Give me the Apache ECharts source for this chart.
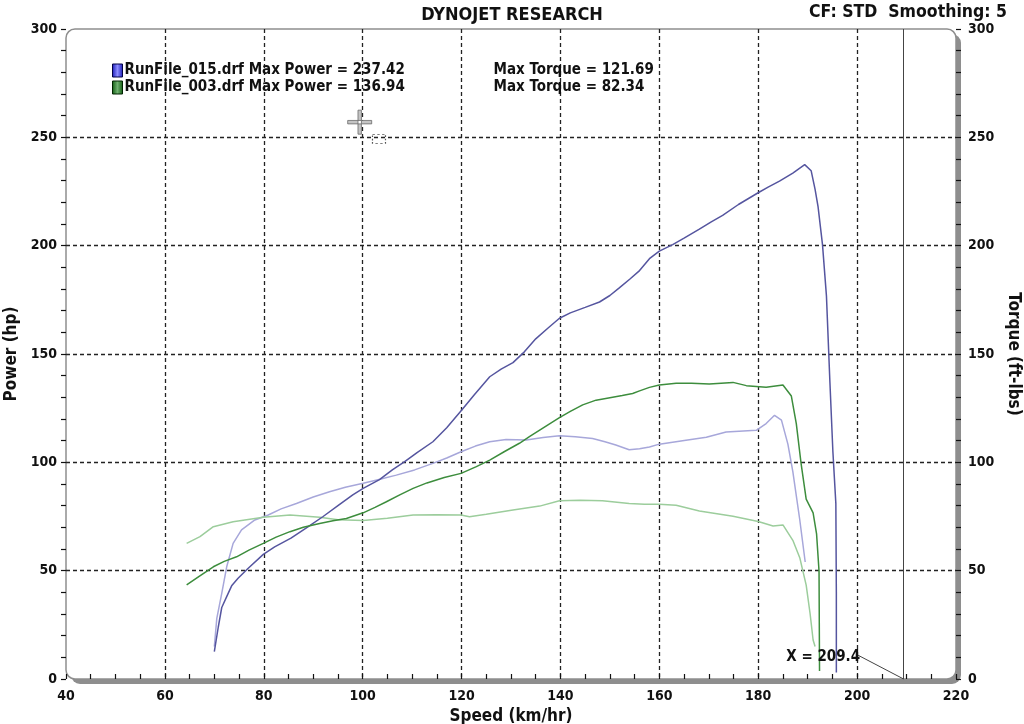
<!DOCTYPE html>
<html><head><meta charset="utf-8">
<script src="https://cdn.jsdelivr.net/npm/echarts@6/dist/echarts.min.js"></script>
<style>html,body{margin:0;padding:0;background:#fff}#c{width:1024px;height:724px}</style>
</head><body><div id="c"></div>
<script>
// ---------- data ----------
const runNames = ['RunFile_015.drf', 'RunFile_003.drf'];
const maxPower = [237.42, 136.94];
const maxTorque = [121.69, 82.34];
const titleText = 'DYNOJET RESEARCH';
const infoText = 'CF: STD  Smoothing: 5';
const xName = 'Speed (km/hr)';
const yLeftName = 'Power (hp)';
const yRightName = 'Torque (ft-lbs)';
const cursorX = 209.4;
const cursorLabelAt = [200.8, 10.2];
const cursorLeaderEnd = [200.0, 11.2];
const pointerAt = [99.4, 257];
const pointerBoxAt = [103.3, 249.3];

const run015PowerSpeed = [70.0,70.8,71.5,72.5,73.5,74.8,76.8,79.9,82.2,85.5,89,92,95,98,100.1,103.4,106,108.5,111,114.2,117,120,122.5,125.7,128,130.4,132.7,135,137.5,139.8,142,145,147.9,150,151.9,154,156,158,160,162.7,165,168.1,170.5,172.8,176,179.9,182,184.3,187,189.4,190.7,191.5,192.1,193,193.8,194.5,195.1,195.7,195.8,195.8];
const run015Power = [12.6,24,33,38,43,46.5,51,57.5,61,65,70.3,75,80,85,88,92,96.5,100.3,104.5,109.5,116,124,131,139.5,143,146,151,157,162,166.5,169,171.5,174,177,180.5,184.5,188.5,194,197.5,200.5,203.5,207.6,211,214,219,224.3,227,229.8,233.5,237.4,234.6,226,218,200.5,176.7,137,105,81,40,3];

const run015TorqueSpeed = [70.0,70.5,71.5,72.5,73.8,75.5,78.2,80.9,83.5,86.6,90,93.3,96.5,100.1,103.5,106.8,110.5,114.2,117,119.9,122.8,125.7,129,133.1,136.5,139.8,143,146.5,149,151.2,153.9,156,158,160,164.7,169.5,173.5,177,179.6,181.6,183.3,184.7,186,187,188.4,189.5];
const run015Torque = [15,28,39.5,51.8,62.6,68.8,73.4,75.7,78.5,81,84,86.4,88.5,90.3,92.2,94.1,96.5,99.5,102,104.9,107.5,109.5,110.5,110.3,111.5,112.3,111.8,111,109.5,108,105.8,106.3,107.1,108.4,110,111.6,114,114.5,114.8,117.9,121.7,119.5,108.4,95.7,73.5,54];

const run003PowerSpeed = [64.4,67,69.8,72,74.5,77,79.9,82.5,85.3,88,91.3,94,96.7,100.1,102.5,104.8,107.5,110.2,113,116.5,119.9,123,125.7,128.7,131.7,133.8,135.8,137.8,139.8,142,144.5,147.2,150,152.5,154.6,156,158,160,163.4,166.5,170.1,174.9,177.6,181.6,185,186.7,187.7,188.7,189.7,191.1,191.8,192.3,192.4];
const run003Power = [43.4,47.5,51.8,54.3,56.4,59.5,62.6,65.5,68,70,71.8,73,74.1,76.7,79.2,81.8,85,88,90.5,93,94.9,98,101,105,108.8,112,114.9,117.8,120.6,123.5,126.5,128.7,129.8,130.8,131.8,133,134.6,135.7,136.5,136.5,136.2,136.9,135.4,134.6,135.7,130.6,117.9,98.9,83,76.7,67,49.7,3.7];

const run003TorqueSpeed = [64.4,67.1,69.8,73.8,79.9,85.3,91.3,95,100.1,105,110.2,115,119.9,121.6,125,130.4,135.8,139.8,144,148.5,153.9,157,160,163.4,168.1,174.9,180,183,185,187,188.4,189.7,190.5,191.1,191.5];
const run003Torque = [62.6,65.7,70.3,72.6,74.6,75.7,74.6,73.5,73.1,74.2,75.7,75.8,75.7,74.9,76,78,79.8,82.3,82.5,82.3,81,80.6,80.6,80.2,77.5,75.1,72.7,70.6,71.1,64,56,43.3,30,18,15];

// ---------- layout / style ----------
const FONT = '"DejaVu Sans Condensed","DejaVu Sans",sans-serif';
const G = {left: 66, right: 68, top: 29, bottom: 45};
const W = 1024, H = 724;
const zip = (a, b) => a.map((v, i) => [v, b[i]]);
const C = {p15: '#55559f', t15: '#a7a7da', p03: '#3d8d3d', t03: '#9ccd9c'};
const seriesNames = runNames.flatMap(n => [n + ' Power', n + ' Torque']);

const chart = echarts.init(document.getElementById('c'), null, {renderer: 'canvas'});
const boldTxt = (size) => ({fontFamily: FONT, fontWeight: 'bold', fontSize: size, color: '#111'});
const grid = {lineStyle: {color: '#222', width: 1.3, type: [4, 3]}};

chart.setOption({
  animation: false,
  backgroundColor: '#fff',
  title: [
    {text: titleText, left: 'center', top: 1, textStyle: boldTxt(18)},
    {text: infoText, right: 12, top: -2, textStyle: boldTxt(17.5)}
  ],
  graphic: [
    {type: 'rect', z: -20, silent: true,
     shape: {x: G.left + 5, y: G.top + 5, width: W - G.left - G.right, height: H - G.top - G.bottom, r: 9},
     style: {fill: '#8e8e8e'}},
    {type: 'rect', z: -19, silent: true,
     shape: {x: G.left, y: G.top, width: W - G.left - G.right, height: H - G.top - G.bottom, r: 9},
     style: {fill: '#fff', stroke: '#8e8e8e', lineWidth: 1.5}}
  ],
  grid: {left: G.left, right: G.right, top: G.top, bottom: G.bottom, containLabel: false, outerBoundsMode: 'none'},
  legend: {
    left: 107, top: 58, orient: 'vertical', icon: 'rect',
    itemWidth: 10, itemHeight: 13, itemGap: 2,
    data: [
      {name: seriesNames[0], itemStyle: {color: new echarts.graphic.LinearGradient(0,0,1,0,[{offset:0,color:'#1515b5'},{offset:0.5,color:'#8c8cff'},{offset:1,color:'#1515b5'}]), borderColor: '#000044', borderWidth: 1}},
      {name: seriesNames[2], itemStyle: {color: new echarts.graphic.LinearGradient(0,0,1,0,[{offset:0,color:'#0d5a0d'},{offset:0.5,color:'#6fb06f'},{offset:1,color:'#0d5a0d'}]), borderColor: '#002200', borderWidth: 1}}
    ],
    formatter: (name) => {
      const i = name === seriesNames[0] ? 0 : 1;
      return '{a|' + runNames[i] + ' Max Power = ' + maxPower[i].toFixed(2) + '}{b|Max Torque = ' + maxTorque[i].toFixed(2) + '}';
    },
    textStyle: {
      padding: [0, 0, 0, -3],
      rich: {
        a: Object.assign(boldTxt(15), {width: 369, lineHeight: 18}),
        b: Object.assign(boldTxt(15), {lineHeight: 18})
      }
    }
  },
  xAxis: [{
    type: 'value', min: 40, max: 220, interval: 20,
    name: xName, nameLocation: 'middle', nameGap: 27, nameTextStyle: boldTxt(17),
    axisLine: {show: false},
    axisTick: {show: true, inside: true, length: 5, lineStyle: {color: '#111', width: 1.2}},
    minorTick: {show: true, splitNumber: 4, length: 5, lineStyle: {color: '#111', width: 1.2}},
    axisLabel: Object.assign(boldTxt(14), {margin: 10}),
    splitLine: Object.assign({show: true, showMinLine: false, showMaxLine: false}, grid)
  }],
  yAxis: [{
    type: 'value', min: 0, max: 300, interval: 50, position: 'left',
    name: yLeftName, nameLocation: 'middle', nameGap: 46, nameTextStyle: boldTxt(17),
    axisLine: {show: false},
    axisTick: {show: true, length: 5, lineStyle: {color: '#111', width: 1.2}},
    minorTick: {show: true, splitNumber: 5, length: 5, lineStyle: {color: '#111', width: 1.2}},
    axisLabel: Object.assign(boldTxt(14), {margin: 9}),
    splitLine: Object.assign({show: true, showMinLine: false, showMaxLine: false}, grid)
  }, {
    type: 'value', min: 0, max: 300, interval: 50, position: 'right',
    name: yRightName, nameLocation: 'middle', nameGap: 45, nameRotate: -90, nameTextStyle: boldTxt(17),
    axisLine: {show: false},
    axisTick: {show: true, length: 5, lineStyle: {color: '#111', width: 1.2}},
    minorTick: {show: true, splitNumber: 5, length: 5, lineStyle: {color: '#111', width: 1.2}},
    axisLabel: Object.assign(boldTxt(14), {margin: 12}),
    splitLine: {show: false}
  }],
  series: [
    {name: seriesNames[0], type: 'line', yAxisIndex: 0, showSymbol: false, symbol: 'none', z: 4,
     lineStyle: {color: C.p15, width: 1.5}, itemStyle: {color: C.p15},
     data: zip(run015PowerSpeed, run015Power),
     markLine: {silent: true, symbol: 'none', animation: false, label: {show: false},
       data: [
         [{coord: [cursorX, 0]}, {coord: [cursorX, 300]}],
         [{coord: [cursorX, 0]}, {coord: cursorLeaderEnd}]
       ],
       lineStyle: {color: '#444', width: 1, type: 'solid'}},
     markPoint: {silent: true,
       data: [
         {coord: cursorLabelAt, value: cursorX, symbol: 'circle', symbolSize: 0,
          label: Object.assign(boldTxt(15), {show: true, position: 'left', distance: 1, formatter: 'X = ' + cursorX})},
         {coord: pointerAt, symbol: 'path://M9,0h3v9h-3z M9,12h3v9h-3z M0,9h9v3h-9z M12,9h9v3h-9z', symbolSize: 24,
          itemStyle: {color: '#c4c4c4', borderColor: '#6a6a6a', borderWidth: 0.8}, label: {show: false}},
         {coord: pointerBoxAt, symbol: 'rect', symbolSize: [13, 9],
          itemStyle: {color: 'rgba(0,0,0,0)', borderColor: '#555', borderWidth: 1, borderType: [2, 2]}, label: {show: false}}
       ]}
    },
    {name: seriesNames[1], type: 'line', yAxisIndex: 1, showSymbol: false, symbol: 'none', z: 3,
     lineStyle: {color: C.t15, width: 1.5}, itemStyle: {color: C.t15},
     data: zip(run015TorqueSpeed, run015Torque)},
    {name: seriesNames[2], type: 'line', yAxisIndex: 0, showSymbol: false, symbol: 'none', z: 4,
     lineStyle: {color: C.p03, width: 1.5}, itemStyle: {color: C.p03},
     data: zip(run003PowerSpeed, run003Power)},
    {name: seriesNames[3], type: 'line', yAxisIndex: 1, showSymbol: false, symbol: 'none', z: 3,
     lineStyle: {color: C.t03, width: 1.5}, itemStyle: {color: C.t03},
     data: zip(run003TorqueSpeed, run003Torque)}
  ]
});
</script></body></html>
